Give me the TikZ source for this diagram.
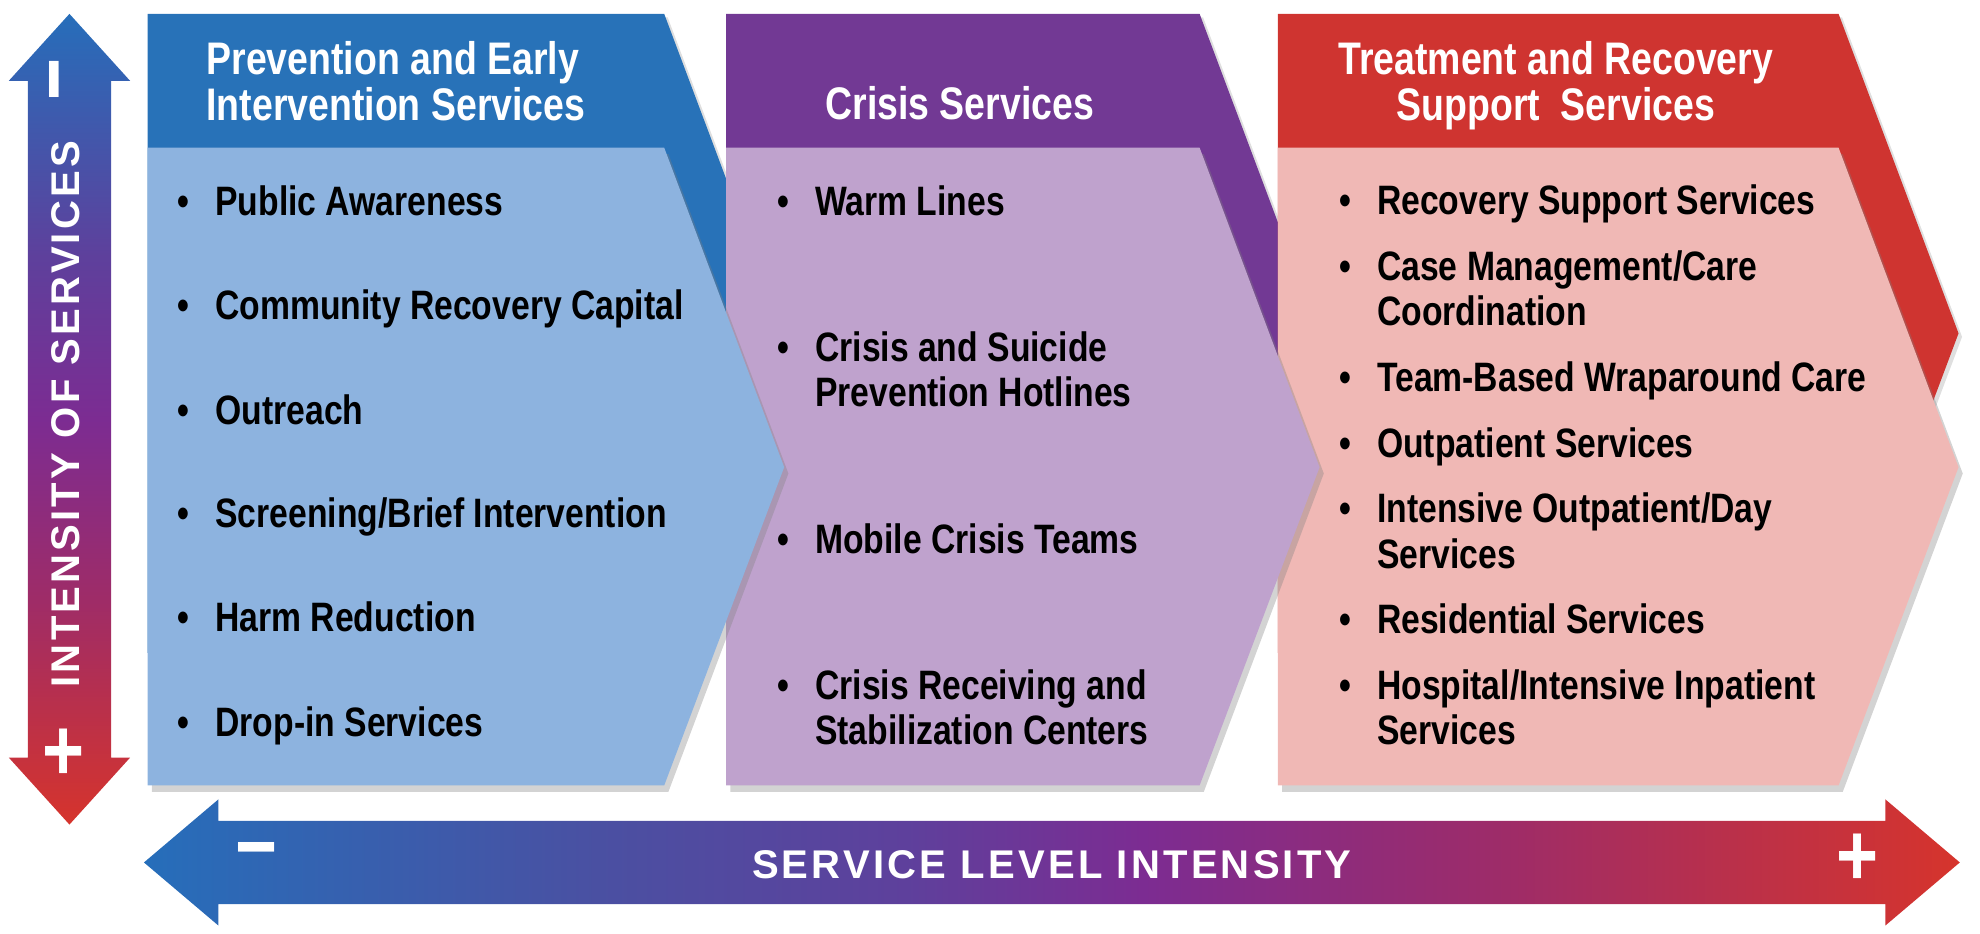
\documentclass[tikz,border=0pt]{standalone}
\usepackage{fontspec}
\setmainfont[FakeStretch=0.82]{Liberation Sans}
\newfontfamily\widefont[LetterSpace=8]{Liberation Sans}
\usetikzlibrary{shadows}

\definecolor{dblue}{RGB}{40,114,184}
\definecolor{lblue}{RGB}{141,179,223}
\definecolor{dpurple}{RGB}{114,57,148}
\definecolor{lpurple}{RGB}{191,162,205}
\definecolor{dred}{RGB}{207,52,48}
\definecolor{lred}{RGB}{240,184,181}
\definecolor{arrblue}{RGB}{38,110,186}
\definecolor{arrviolet}{RGB}{74,80,162}
\definecolor{arrindigo}{RGB}{94,64,156}
\definecolor{arrpurple}{RGB}{124,44,146}
\definecolor{arrplum}{RGB}{158,44,104}
\definecolor{arrred}{RGB}{214,52,44}

% gradients of the two axes
\pgfdeclarehorizontalshading{hintensity}{100bp}{color(0bp)=(arrblue); color(25bp)=(arrblue);
  color(37.5bp)=(arrviolet); color(46bp)=(arrindigo); color(52.5bp)=(arrpurple);
  color(62.5bp)=(arrplum); color(75bp)=(arrred); color(100bp)=(arrred)}
\pgfdeclareverticalshading{vintensity}{100bp}{color(0bp)=(arrred); color(25bp)=(arrred);
  color(39bp)=(arrplum); color(50bp)=(arrpurple); color(60bp)=(arrindigo);
  color(75bp)=(arrblue); color(100bp)=(arrblue)}

% multi-line cells, baseline on the first line
\newcommand{\leftrows}[1]{\begin{tabular}[t]{@{}l@{}}#1\end{tabular}}
\newcommand{\centrows}[1]{\begin{tabular}[t]{@{}c@{}}#1\end{tabular}}
\newcommand{\bul}[1]{\makebox[10.8pt][l]{•}\leftrows{#1}}

\tikzset{
  darkshape/.style={drop shadow={shadow xshift=1pt, shadow yshift=-1pt, opacity=0.25}},
  lightshape/.style={drop shadow={shadow xshift=1.2pt, shadow yshift=-1.8pt, opacity=0.35}},
  itemtext/.style={anchor=base west, inner sep=0pt, font=\fontsize{11.7}{12.9}\selectfont\bfseries},
  headtext/.style={inner sep=0pt, text=white, font=\fontsize{13}{12.6}\selectfont\bfseries},
  axistext/.style={inner sep=0pt, text=white, font=\widefont\fontsize{11.4}{12}\selectfont\bfseries},
  signmark/.style={inner sep=0pt, text=white, font=\fontsize{25}{25}\selectfont\bfseries},
}

\begin{document}
\begin{tikzpicture}[x=0.012628cm, y=-0.012628cm]
  \useasboundingbox (0,0) rectangle (1568,739);

  % headers (back layer)
  \fill[dblue, darkshape] (117,11) -- (526,11) -- (621,264) -- (526,517) -- (117,517) -- cycle;
  \fill[dpurple, darkshape] (575,11) -- (950,11) -- (1045,264) -- (950,517) -- (575,517) -- cycle;
  \fill[dred, darkshape] (1012,11) -- (1456,11) -- (1551,264) -- (1456,517) -- (1012,517) -- cycle;

  % bodies, right to left
  \fill[lred, lightshape] (1012,117) -- (1456,117) -- (1551,370) -- (1456,622) -- (1012,622) -- cycle;
  \fill[lpurple, lightshape] (575,117) -- (950,117) -- (1045,370) -- (950,622) -- (575,622) -- cycle;
  \fill[lblue, lightshape] (117,117) -- (526,117) -- (621,370) -- (526,622) -- (117,622) -- cycle;

  % vertical axis
  \shade[shading=vintensity]
    (55,11) -- (103,64) -- (88,64) -- (88,600) -- (103,600) -- (55,653)
    -- (7,600) -- (22,600) -- (22,64) -- (7,64) -- cycle;
  \node[axistext, rotate=90] (vlabel) at (52,328) {INTENSITY OF SERVICES};
  \node[signmark, rotate=90] (vminus) at (53,63) {−};
  \node[signmark] (vplus) at (50,598) {+};

  % horizontal axis
  \shade[shading=hintensity]
    (114,683) -- (173,633) -- (173,650) -- (1493,650) -- (1493,633) -- (1552,683)
    -- (1493,733) -- (1493,716) -- (173,716) -- (173,733) -- cycle;
  \node[axistext] (hlabel) at (833,685) {SERVICE LEVEL INTENSITY};
  \node[signmark] (hminus) at (203,681) {−};
  \node[signmark] (hplus) at (1471,681) {+};

  % column titles
  \node[headtext, anchor=base west] (prevhead) at (163,59)
    {\leftrows{Prevention and Early\\Intervention Services}};
  \node[headtext, anchor=base] (crisishead) at (760,95) {Crisis Services};
  \node[headtext, anchor=base] (treathead) at (1232,59)
    {\centrows{Treatment and Recovery\\Support\ \ Services}};

  % prevention items
  \node[itemtext] (p1) at (140,171) {\bul{Public Awareness}};
  \node[itemtext] (p2) at (140,253) {\bul{Community Recovery Capital}};
  \node[itemtext] (p3) at (140,336) {\bul{Outreach}};
  \node[itemtext] (p4) at (140,418) {\bul{Screening/Brief Intervention}};
  \node[itemtext] (p5) at (140,500) {\bul{Harm Reduction}};
  \node[itemtext] (p6) at (140,583) {\bul{Drop-in Services}};

  % crisis items
  \node[itemtext] (c1) at (615,171) {\bul{Warm Lines}};
  \node[itemtext] (c2) at (615,286) {\bul{Crisis and Suicide\\Prevention Hotlines}};
  \node[itemtext] (c3) at (615,438) {\bul{Mobile Crisis Teams}};
  \node[itemtext] (c4) at (615,554) {\bul{Crisis Receiving and\\Stabilization Centers}};

  % treatment items
  \node[itemtext] (t1) at (1060,170) {\bul{Recovery Support Services}};
  \node[itemtext] (t2) at (1060,222) {\bul{Case Management/Care\\Coordination}};
  \node[itemtext] (t3) at (1060,310) {\bul{Team-Based Wraparound Care}};
  \node[itemtext] (t4) at (1060,362) {\bul{Outpatient Services}};
  \node[itemtext] (t5) at (1060,414) {\bul{Intensive Outpatient/Day\\Services}};
  \node[itemtext] (t6) at (1060,502) {\bul{Residential Services}};
  \node[itemtext] (t7) at (1060,554) {\bul{Hospital/Intensive Inpatient\\Services}};
\end{tikzpicture}
\end{document}
